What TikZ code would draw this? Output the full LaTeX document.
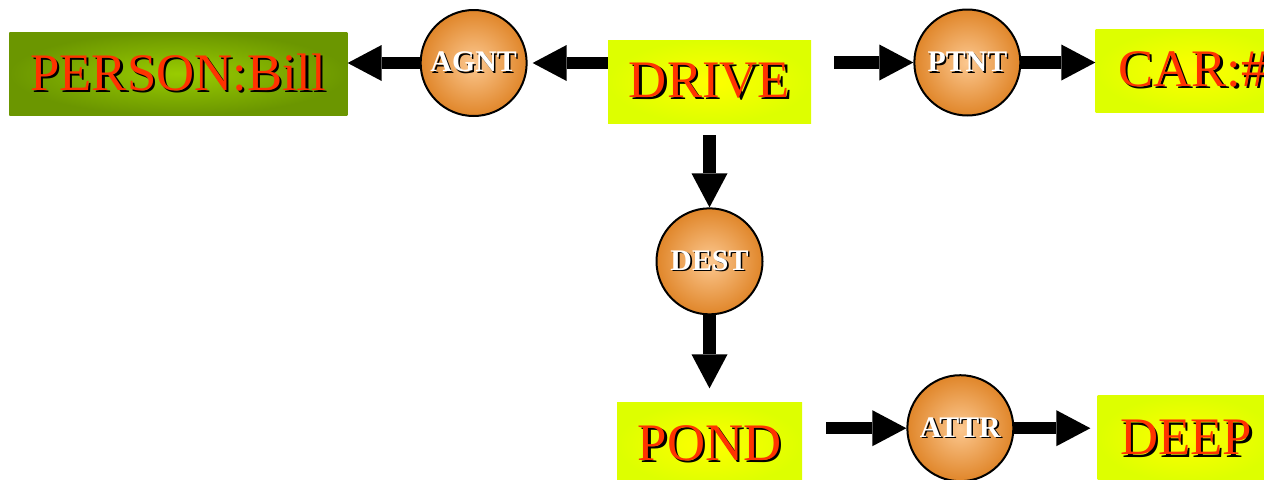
\documentclass[tikz,border=0pt]{standalone}
\usepackage{fontspec}
\setmainfont{Liberation Serif}
\usepackage{tikz}
\usetikzlibrary{positioning,arrows.meta}

\definecolor{redtext}{HTML}{FF3300}
\definecolor{yellowin}{HTML}{FFFF00}
\definecolor{yellowout}{HTML}{DDFF00}
\definecolor{greenin}{HTML}{99CC00}
\definecolor{greenout}{HTML}{6B9600}
\definecolor{orangein}{HTML}{FCC890}
\definecolor{orangeout}{HTML}{E0862A}

% text with a black drop shadow
\newcommand{\shadowed}[3]{\rlap{\color{black}\hspace{#3}\raisebox{-#3}{#2}}\textcolor{#1}{#2}}

\begin{document}
\begin{tikzpicture}[auto, node distance=2cm]
\tikzstyle{concept} = [rectangle, minimum height=1.66cm, inner sep=0pt, shade, shading=radial, inner color=yellowin, outer color=yellowout, font=\fontsize{30}{36}\selectfont]
\tikzstyle{person} = [concept, inner color=greenin, outer color=greenout]
\tikzstyle{relation} = [draw, circle, line width=0.04cm, minimum size=2.12cm, inner sep=0pt, shade, shading=radial, inner color=orangein, outer color=orangeout, font=\fontsize{17}{20}\selectfont\bfseries]
\tikzstyle{link} = [line width=0.25cm, -{Triangle[length=0.68cm 0 0, width=0.72cm 0 0, line width=0pt 0 0]}]

    \useasboundingbox (0,0) rectangle (25.28,-9.58);

    % top row
    \node [concept, minimum width=4.06cm] (drive) at (14.19,-1.63) {\shadowed{redtext}{DRIVE}{1.3pt}};
    \node [relation, left=1.6cm of drive, yshift=0.37cm] (agnt) {\shadowed{white}{AGNT}{0.9pt}};
    \node [person, minimum width=6.76cm, left=1.44cm of agnt, yshift=-0.21cm] (person) {\shadowed{redtext}{PERSON:Bill}{1.3pt}};
    \node [relation, right=2.04cm of drive, yshift=0.38cm] (ptnt) {\shadowed{white}{PTNT}{0.9pt}};
    \node [concept, minimum width=3.9cm, right=1.48cm of ptnt, yshift=-0.16cm] (car) {\shadowed{redtext}{CAR:\#}{1.3pt}};

    % down to the destination
    \node [relation, below=1.68cm of drive] (dest) {\shadowed{white}{DEST}{0.9pt}};
    \node [concept, minimum width=3.7cm, below=1.74cm of dest] (pond) {\shadowed{redtext}{POND}{1.3pt}};
    \node [relation, right=2.08cm of pond, yshift=0.32cm] (attr) {\shadowed{white}{ATTR}{0.9pt}};
    \node [concept, minimum width=3.54cm, minimum height=1.72cm, right=1.66cm of attr, yshift=-0.21cm] (deep) {\shadowed{redtext}{DEEP}{1.3pt}};

    % connectors
    \draw [link, shorten >=0.1cm] (drive.west |- agnt) -- (agnt);
    \draw [link] (agnt) -- (person.east |- agnt);
    \draw [link, shorten <=0.46cm] (drive.east |- ptnt) -- (ptnt);
    \draw [link] (ptnt) -- (car.west |- ptnt);
    \draw [link, shorten <=0.24cm] (drive) -- (dest);
    \draw [link, shorten >=0.28cm] (dest) -- (pond);
    \draw [link, shorten <=0.48cm] (pond.east |- attr) -- (attr);
    \draw [link, shorten >=0.14cm] (attr) -- (deep.west |- attr);

\end{tikzpicture}
\end{document}
